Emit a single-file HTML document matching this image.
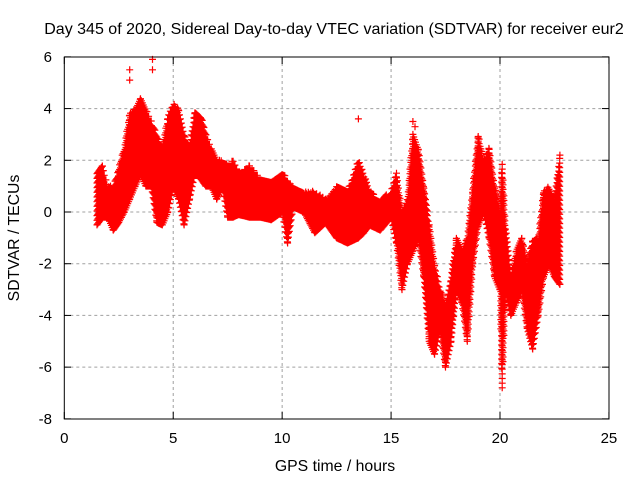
<!DOCTYPE html>
<html><head><meta charset="utf-8"><style>
body{margin:0;background:#fff}
svg{display:block;font-family:"Liberation Sans",sans-serif}
</style></head><body>
<svg id="chart" width="640" height="480" viewBox="0 0 640 480">
<rect width="640" height="480" fill="#fff"/>
<text x="334" y="34" font-size="16" text-anchor="middle">Day 345 of 2020, Sidereal Day-to-day VTEC variation (SDTVAR) for receiver eur2</text>
<text x="335" y="471" font-size="15.8" text-anchor="middle">GPS time / hours</text>
<text transform="translate(19,238) rotate(-90)" font-size="15.8" text-anchor="middle">SDTVAR / TECUs</text>
<g id="grid"></g>
<g id="ticks"></g>
<path id="pts" fill="none" stroke="#ff0000" stroke-width="1.2"></path>
<rect x="64.3" y="57" width="544.7" height="362" fill="none" stroke="#000" stroke-width="1"/>
</svg>
<script>
const xTicks=[0,5,10,15,20,25];
const yTicks=[6,4,2,0,-2,-4,-6,-8];
const times=[1.5,1.75,2.0,2.25,2.5,2.75,3.0,3.25,3.5,3.75,4.0,4.25,4.5,4.75,5.0,5.25,5.5,5.75,6.0,6.25,6.5,6.75,7.0,7.25,7.5,7.75,8.0,8.5,9.0,9.5,10.0,10.25,10.5,11.0,11.5,12.0,12.5,13.0,13.5,13.75,14.0,14.5,15.0,15.25,15.5,15.75,16.0,16.25,16.5,16.75,17.0,17.25,17.5,17.75,18.0,18.25,18.5,18.75,19.0,19.25,19.5,19.75,20.0,20.1,20.25,20.5,20.75,21.0,21.25,21.5,21.75,22.0,22.25,22.5,22.75];
const lows=[-0.5,-0.2,-0.2,-0.7,-0.4,0.0,0.5,1.0,1.5,1.0,1.0,-0.4,-0.5,0.0,1.0,0.5,-0.5,0.5,1.5,1.3,1.0,1.0,0.5,1.0,-0.2,-0.2,-0.1,-0.2,-0.2,-0.3,0.0,-1.2,0.2,0.0,-0.8,-0.4,-1.0,-1.2,-1.0,-0.8,-0.5,-0.7,-0.2,-1.2,-3.0,-2.0,-1.5,-1.0,-2.5,-5.0,-5.5,-4.5,-6.0,-5.0,-3.0,-3.5,-5.0,-2.0,-0.5,0.0,-1.0,-2.5,-3.0,-6.8,-3.0,-4.0,-3.5,-3.0,-4.5,-5.3,-4.0,-2.5,-2.0,-2.5,-2.8];
const highs=[1.6,1.8,1.0,1.0,1.7,2.5,3.8,4.0,4.5,4.0,3.5,3.0,2.5,3.7,4.2,4.0,3.0,2.5,4.0,3.8,3.0,2.5,2.0,2.0,1.8,2.0,1.5,1.8,1.3,1.2,1.6,1.2,1.0,0.8,0.8,0.5,1.0,0.8,2.0,1.5,0.8,0.5,0.8,1.5,0.0,0.5,3.0,2.5,1.0,-0.5,-2.0,-3.0,-3.5,-2.5,-1.0,-1.5,-1.0,1.0,3.0,2.0,2.5,1.0,0.0,2.0,-0.5,-2.5,-1.5,-1.0,-2.0,-1.0,-1.0,0.8,1.0,0.5,2.2];
const outT=[3.0,3.0,4.05,4.05,13.5,16.0,16.1];
const outV=[5.5,5.1,5.9,5.5,3.6,3.5,3.3];
const X=t=>64.3+t*21.785, Y=v=>212-v*25.857;
const ns='http://www.w3.org/2000/svg';
const grid=document.getElementById('grid'), ticks=document.getElementById('ticks');
function mk(tag,attrs,parent){const e=document.createElementNS(ns,tag);for(const k in attrs)e.setAttribute(k,attrs[k]);parent.appendChild(e);return e;}
xTicks.forEach(t=>{
 if(t>0&&t<25){const g=mk('line',{x1:X(t),x2:X(t),y1:57,y2:419,stroke:'#a0a0a0','stroke-dasharray':'3,3'},grid);
 
 }
 mk('line',{x1:X(t),x2:X(t),y1:419,y2:412,stroke:'#000'},ticks);
 mk('line',{x1:X(t),x2:X(t),y1:57,y2:64,stroke:'#000'},ticks);
 const l=mk('text',{x:X(t),y:443,'font-size':15,'text-anchor':'middle'},ticks);l.textContent=t;
 
 
});
yTicks.forEach(v=>{
 if(v<6&&v>-8){const g=mk('line',{x1:64.3,x2:609,y1:Y(v),y2:Y(v),stroke:'#a0a0a0','stroke-dasharray':'3,3'},grid);
 
 }
 mk('line',{x1:64.3,x2:71,y1:Y(v),y2:Y(v),stroke:'#000'},ticks);
 mk('line',{x1:602,x2:609,y1:Y(v),y2:Y(v),stroke:'#000'},ticks);
 const l=mk('text',{x:52,y:Y(v)+5,'font-size':15,'text-anchor':'end'},ticks);l.textContent=v;
 
 
});
let d='';
function plus(t,v){const x=X(t),y=Y(v);d+='M'+(x-3.5).toFixed(1)+' '+y.toFixed(1)+'h7M'+x.toFixed(1)+' '+(y-3.5).toFixed(1)+'v7';}
for(let i=0;i<times.length-1;i++){
 const t0=times[i],t1=times[i+1];
 for(let t=t0;t<t1;t+=0.04){
  const f=(t-t0)/(t1-t0);
  const lo=lows[i]+(lows[i+1]-lows[i])*f, hi=highs[i]+(highs[i+1]-highs[i])*f;
  for(let v=lo;v<=hi+0.001;v+=0.18) plus(t,v);
 }
}
plus(times[times.length-1],lows[lows.length-1]);plus(times[times.length-1],highs[highs.length-1]);
outT.forEach((t,i)=>plus(t,outV[i]));
document.getElementById('pts').setAttribute('d',d);
</script>
</body></html>
